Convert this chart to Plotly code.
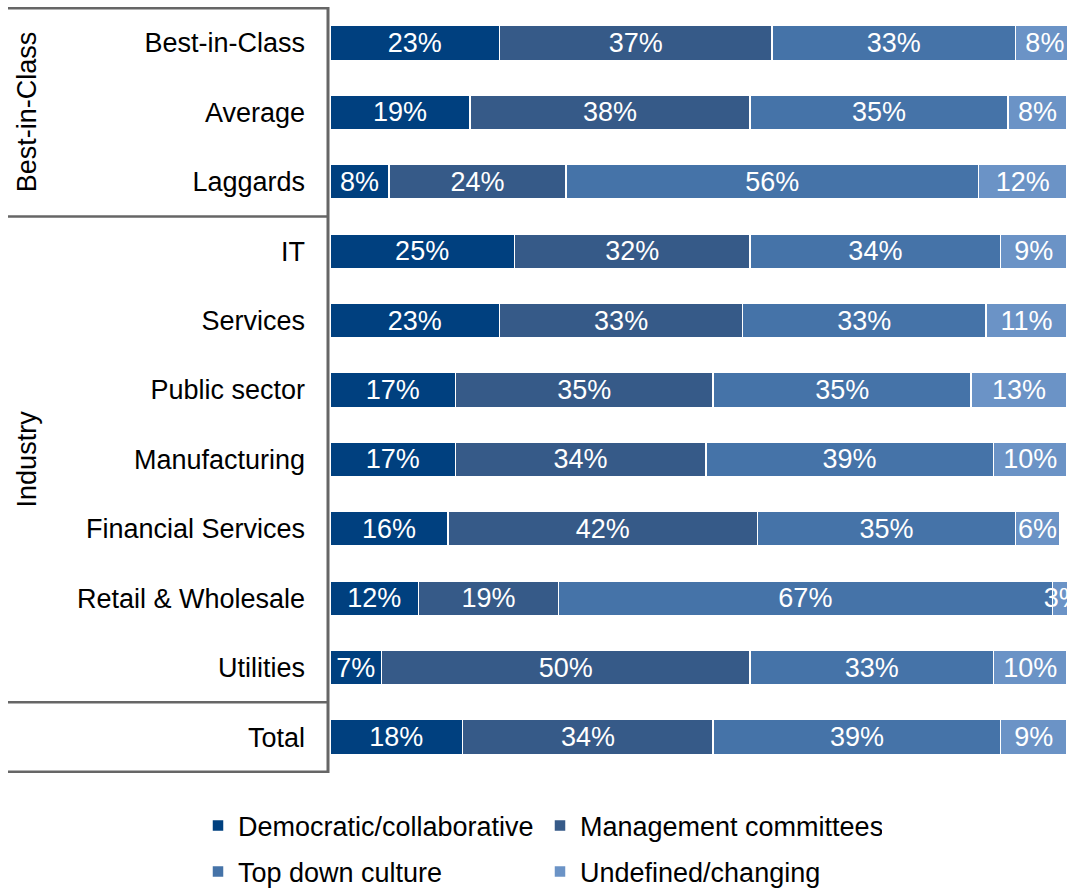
import plotly.graph_objects as go

# Survey: decision-making culture by maturity class and industry
categories = ["Best-in-Class", "Average", "Laggards", "IT", "Services", "Public sector",
              "Manufacturing", "Financial Services", "Retail & Wholesale", "Utilities", "Total"]
democratic = [23, 19, 8, 25, 23, 17, 17, 16, 12, 7, 18]
management = [37, 38, 24, 32, 33, 35, 34, 42, 19, 50, 34]
top_down = [33, 35, 56, 34, 33, 35, 39, 35, 67, 33, 39]
undefined = [8, 8, 12, 9, 11, 13, 10, 6, 3, 10, 9]

series_names = ["Democratic/collaborative", "Management committees",
                "Top down culture", "Undefined/changing"]
series_values = [democratic, management, top_down, undefined]
series_colors = ["#00407F", "#365A88", "#4573A8", "#6B93C6"]
series_legends = ["legend", "legend", "legend2", "legend2"]

# Row groups shown in the left-hand table: (label, first row, last row)
row_groups = [("Best-in-Class", 0, 2), ("Industry", 3, 9), ("", 10, 10)]

W, H = 1072, 888
ML, MR, MT, MB = 330, 5, 7, 115
PW = W - ML - MR
FONT = "Liberation Sans, Arial, sans-serif"
FS = 27
GRID = "#666666"


def px_to_paper_x(px):
    return (px - ML) / PW


fig = go.Figure()
for name, vals, col, lg in zip(series_names, series_values, series_colors, series_legends):
    fig.add_trace(go.Bar(
        name=name, y=categories, x=vals, orientation="h",
        marker=dict(color=col, line=dict(color="white", width=1.5)),
        text=[f"{v}%" for v in vals], textposition="inside",
        insidetextanchor="middle", textangle=0, constraintext="none",
        textfont=dict(color="white", size=FS, family=FONT),
        cliponaxis=True, width=0.5, legend=lg,
        hovertemplate="%{y}: %{x}%<extra>" + name + "</extra>",
    ))

shapes = []
# horizontal rules of the left table at group boundaries
bounds = sorted({-0.5} | {g[2] + 0.5 for g in row_groups})
for b in bounds:
    shapes.append(dict(type="line", xref="paper", yref="y",
                       x0=px_to_paper_x(8), x1=px_to_paper_x(329), y0=b, y1=b,
                       line=dict(color=GRID, width=2.5)))
# vertical rule along the category axis
shapes.append(dict(type="line", xref="paper", yref="paper",
                   x0=px_to_paper_x(328), x1=px_to_paper_x(328), y0=0, y1=1,
                   line=dict(color=GRID, width=3)))

annotations = []
for label, a, b in row_groups:
    if label:
        annotations.append(dict(text=label, xref="paper", yref="y",
                                x=px_to_paper_x(27), y=(a + b) / 2,
                                textangle=-90, showarrow=False,
                                xanchor="center", yanchor="middle",
                                font=dict(size=FS, color="black", family=FONT)))

legend_common = dict(orientation="h", xref="container", yref="container",
                     xanchor="left", yanchor="middle", x=198 / W,
                     entrywidth=297, entrywidthmode="pixels",
                     font=dict(size=FS, color="black", family=FONT),
                     bgcolor="rgba(0,0,0,0)", traceorder="normal")

fig.update_layout(
    width=W, height=H,
    margin=dict(l=ML, r=MR, t=MT, b=MB),
    barmode="stack", bargap=0.5,
    plot_bgcolor="white", paper_bgcolor="white",
    font=dict(family=FONT, size=FS, color="black"),
    xaxis=dict(range=[0, 100], visible=False, fixedrange=True),
    yaxis=dict(categoryorder="array", categoryarray=categories, autorange="reversed",
               showgrid=False, zeroline=False, showline=False, ticks="",
               ticklabelstandoff=24, tickfont=dict(size=FS, color="black", family=FONT)),
    shapes=shapes, annotations=annotations,
    legend=dict(**legend_common, y=1 - 826 / H),
    legend2=dict(**legend_common, y=1 - 872 / H),
    showlegend=True,
)

fig.write_html("out.html")
